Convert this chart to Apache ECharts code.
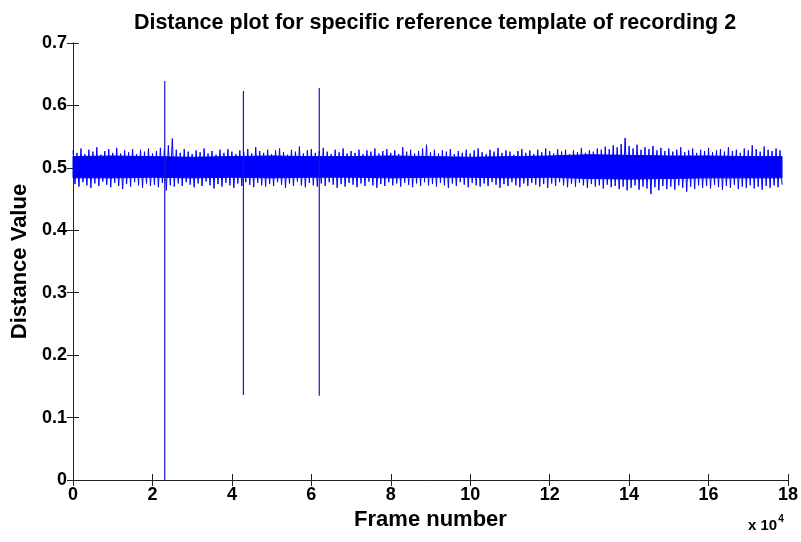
<!DOCTYPE html>
<html>
<head>
<meta charset="utf-8">
<script src="https://cdn.jsdelivr.net/npm/echarts@6/dist/echarts.min.js"></script>
<style>
  html, body { margin: 0; padding: 0; background: #fff; }
  #chart { width: 801px; height: 542px; }
</style>
</head>
<body>
<div id="chart"></div>
<script>
// noise band: whisker tops / bottoms, one pair per 1000 frames
const frameStep = 1000
const bandHigh = [
  0.528, 0.524, 0.531, 0.522, 0.529, 0.526, 0.533, 0.521, 0.527, 0.530,
  0.524, 0.532, 0.523, 0.528, 0.525, 0.530, 0.522, 0.529, 0.526, 0.531,
  0.523, 0.527, 0.532, 0.530, 0.536, 0.547, 0.529, 0.524, 0.530, 0.526,
  0.522, 0.528, 0.525, 0.531, 0.523, 0.527, 0.521, 0.529, 0.524, 0.530,
  0.526, 0.522, 0.528, 0.525, 0.530, 0.523, 0.533, 0.527, 0.524, 0.529,
  0.522, 0.528, 0.531, 0.525, 0.521, 0.529, 0.526, 0.534, 0.523, 0.528,
  0.530, 0.524, 0.527, 0.532, 0.526, 0.522, 0.529, 0.525, 0.531, 0.523,
  0.527, 0.524, 0.529, 0.522, 0.528, 0.526, 0.531, 0.523, 0.527, 0.530,
  0.524, 0.528, 0.522, 0.533, 0.526, 0.529, 0.523, 0.527, 0.531, 0.537,
  0.525, 0.529, 0.523, 0.528, 0.526, 0.530, 0.522, 0.527, 0.524, 0.529,
  0.523, 0.528, 0.531, 0.525, 0.522, 0.529, 0.526, 0.532, 0.524, 0.528,
  0.526, 0.521, 0.527, 0.530, 0.524, 0.528, 0.522, 0.529, 0.525, 0.531,
  0.527, 0.523, 0.530, 0.526, 0.529, 0.522, 0.528, 0.525, 0.532, 0.524,
  0.528, 0.526, 0.531, 0.529, 0.534, 0.530, 0.536, 0.533, 0.538, 0.548,
  0.535, 0.531, 0.537, 0.529, 0.533, 0.530, 0.535, 0.528, 0.532, 0.527,
  0.531, 0.526, 0.529, 0.533, 0.525, 0.528, 0.531, 0.524, 0.529, 0.527,
  0.532, 0.525, 0.528, 0.530, 0.526, 0.533, 0.527, 0.529, 0.524, 0.531,
  0.528, 0.536, 0.530, 0.526, 0.534, 0.529, 0.527, 0.531, 0.528
]
const bandLow = [
  0.474, 0.470, 0.477, 0.472, 0.468, 0.475, 0.471, 0.478, 0.473, 0.469,
  0.476, 0.471, 0.466, 0.474, 0.470, 0.477, 0.472, 0.468, 0.475, 0.471,
  0.473, 0.469, 0.476, 0.464, 0.472, 0.470, 0.475, 0.471, 0.477, 0.473,
  0.469, 0.475, 0.471, 0.478, 0.472, 0.467, 0.474, 0.470, 0.476, 0.472,
  0.468, 0.475, 0.471, 0.477, 0.473, 0.469, 0.476, 0.472, 0.470, 0.474,
  0.471, 0.477, 0.473, 0.468, 0.475, 0.471, 0.478, 0.472, 0.469, 0.476,
  0.472, 0.470, 0.475, 0.471, 0.477, 0.473, 0.468, 0.474, 0.470, 0.476,
  0.473, 0.469, 0.475, 0.471, 0.478, 0.472, 0.468, 0.474, 0.471, 0.477,
  0.472, 0.475, 0.470, 0.476, 0.473, 0.469, 0.475, 0.471, 0.477, 0.472,
  0.474, 0.470, 0.476, 0.472, 0.468, 0.475, 0.471, 0.477, 0.473, 0.469,
  0.476, 0.472, 0.470, 0.475, 0.471, 0.477, 0.473, 0.468, 0.474, 0.471,
  0.477, 0.472, 0.469, 0.475, 0.471, 0.476, 0.473, 0.470, 0.474, 0.468,
  0.475, 0.471, 0.477, 0.472, 0.469, 0.474, 0.470, 0.476, 0.472, 0.468,
  0.474, 0.470, 0.472, 0.467, 0.473, 0.469, 0.471, 0.466, 0.470, 0.464,
  0.468, 0.472, 0.465, 0.470, 0.467, 0.458, 0.469, 0.464, 0.471, 0.466,
  0.470, 0.465, 0.472, 0.468, 0.462, 0.470, 0.466, 0.472, 0.468, 0.471,
  0.467, 0.473, 0.469, 0.465, 0.471, 0.468, 0.473, 0.466, 0.470, 0.468,
  0.472, 0.467, 0.470, 0.465, 0.471, 0.468, 0.472, 0.469, 0.473
]
// solid core of the band, read every 10000 frames
const coreFrames = [0, 10000, 20000, 30000, 40000, 50000, 60000, 70000, 80000, 90000,
  100000, 110000, 120000, 130000, 140000, 150000, 160000, 170000, 178500]
const coreHigh = [0.518, 0.519, 0.518, 0.517, 0.518, 0.519, 0.518, 0.518, 0.519, 0.518,
  0.517, 0.518, 0.519, 0.521, 0.520, 0.519, 0.519, 0.518, 0.518]
const coreLow = [0.484, 0.484, 0.485, 0.484, 0.485, 0.484, 0.485, 0.485, 0.484, 0.485,
  0.485, 0.484, 0.485, 0.483, 0.482, 0.483, 0.484, 0.484, 0.484]
// the three outliers
const spikeFrames = [23100, 42900, 62000]
const spikeTop = [0.639, 0.623, 0.628]
const spikeBottom = [0, 0.136, 0.135]

const xTicks = [0, 2, 4, 6, 8, 10, 12, 14, 16, 18]
const yTicks = [0, 0.1, 0.2, 0.3, 0.4, 0.5, 0.6, 0.7]

const bandData = []
bandHigh.forEach((h, i) => {
  bandData.push([i * frameStep, h])
  bandData.push([i * frameStep + frameStep / 2, bandLow[i]])
})
const coreData = coreFrames.map((f, i) => [f, coreLow[i], coreHigh[i]])
const spikeData = []
spikeFrames.forEach((f, i) => {
  spikeData.push([f, spikeTop[i]], [f, spikeBottom[i]], '-')
})

const font = '"Liberation Sans", Arial, sans-serif'
const tick = { show: true, inside: true, length: 6, lineStyle: { color: '#222', width: 1 } }
const line = { show: true, lineStyle: { color: '#222', width: 1 } }
const labelStyle = { color: '#000', fontFamily: font, fontWeight: 'bold', fontSize: 18 }
const nameStyle = { fontFamily: font, fontWeight: 'bold', fontSize: 22, color: '#000' }

// fills the solid middle of the band between this sample and the next one
function renderCore(params, api) {
  const i = params.dataIndex
  if (i >= coreFrames.length - 1) return null
  const pts = [
    api.coord([coreFrames[i], coreLow[i]]),
    api.coord([coreFrames[i + 1], coreLow[i + 1]]),
    api.coord([coreFrames[i + 1], coreHigh[i + 1]]),
    api.coord([coreFrames[i], coreHigh[i]]),
  ]
  return {
    type: 'polygon', shape: { points: pts },
    style: { fill: '#0000ff', stroke: '#0000ff', lineWidth: 1 },
  }
}

const chart = echarts.init(document.getElementById('chart'))
chart.setOption({
  animation: false,
  backgroundColor: '#fff',
  title: {
    text: 'Distance plot for specific reference template of recording 2',
    left: 430, top: 7, textAlign: 'center',
    textStyle: { fontFamily: font, fontWeight: 'bold', fontSize: 21.5, color: '#000' },
  },
  grid: { left: 73, right: 11, top: 43, bottom: 62 },
  xAxis: [
    {
      type: 'value', min: 0, max: 180000, interval: 20000,
      axisLine: line, axisTick: tick, splitLine: { show: false },
      axisLabel: {
        ...labelStyle, margin: 6,
        formatter: v => String(xTicks[Math.round(v / 20000)]),
      },
      name: 'Frame number', nameLocation: 'middle', nameGap: 28, nameTextStyle: nameStyle,
    },
    {
      type: 'value', position: 'top', min: 0, max: 180000, interval: 20000,
      axisLine: line, axisTick: tick, axisLabel: { show: false }, splitLine: { show: false },
    },
  ],
  yAxis: [
    {
      type: 'value', min: 0, max: 0.7, interval: 0.1,
      axisLine: line, axisTick: tick, splitLine: { show: false },
      axisLabel: {
        ...labelStyle, margin: 6,
        formatter: v => {
          const t = yTicks[Math.round(v * 10)]
          return t === 0 ? '0' : t.toFixed(1)
        },
      },
      name: 'Distance Value', nameLocation: 'middle', nameGap: 40, nameTextStyle: nameStyle,
    },
    {
      type: 'value', position: 'right', min: 0, max: 0.7, interval: 0.1,
      axisLine: line, axisTick: tick, axisLabel: { show: false }, splitLine: { show: false },
    },
  ],
  graphic: [
    {
      type: 'text', left: 748, top: 514,
      style: {
        text: '{b|x 10}{s|4}',
        rich: {
          b: { fontFamily: font, fontWeight: 'bold', fontSize: 15, fill: '#000', verticalAlign: 'bottom' },
          s: { fontFamily: font, fontWeight: 'bold', fontSize: 10, fill: '#000', verticalAlign: 'top', padding: [0, 0, 9, 1] },
        },
      },
    },
  ],
  series: [
    {
      name: 'core', type: 'custom', data: coreData, renderItem: renderCore,
      encode: { x: 0, y: [1, 2] }, silent: true, z: 1,
    },
    {
      name: 'band', type: 'line', data: bandData, showSymbol: false,
      lineStyle: { color: '#0000ff', width: 1 }, silent: true, z: 2,
    },
    {
      name: 'spikes', type: 'line', data: spikeData, showSymbol: false, connectNulls: false,
      lineStyle: { color: '#1818c8', width: 1.2 }, silent: true, z: 3,
    },
  ],
})
</script>
</body>
</html>
